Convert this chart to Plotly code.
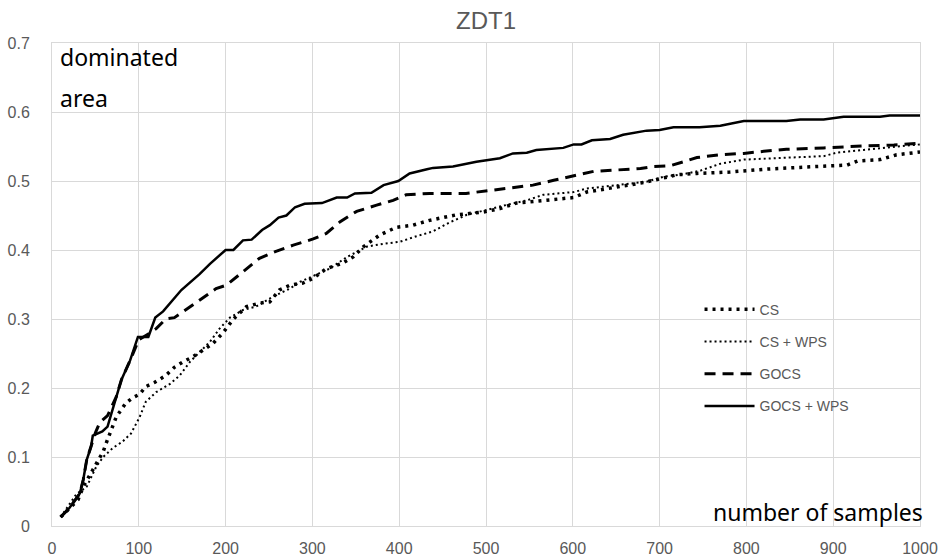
import plotly.graph_objects as go

# Dominated area vs. number of samples on ZDT1
cs_x = [10, 24, 30, 36, 44, 50, 55, 59, 63, 67, 74, 85, 93, 101, 108, 118, 131, 141, 151, 162,
        176, 185, 197, 209, 224, 239, 251, 262, 274, 289, 301, 316, 335, 347, 359, 378, 397, 416,
        435, 466, 497, 516, 535, 574, 601, 616, 651, 678, 693, 720, 743, 781, 820, 859, 897, 916,
        928, 954, 973, 1000]
cs_y = [0.013, 0.030, 0.038, 0.057, 0.074, 0.088, 0.098, 0.108, 0.122, 0.134, 0.158, 0.178, 0.186,
        0.191, 0.202, 0.208, 0.218, 0.230, 0.238, 0.245, 0.257, 0.264, 0.280, 0.300, 0.318, 0.323,
        0.325, 0.342, 0.349, 0.352, 0.359, 0.373, 0.381, 0.390, 0.405, 0.422, 0.433, 0.436, 0.443,
        0.451, 0.455, 0.460, 0.468, 0.472, 0.476, 0.484, 0.491, 0.497, 0.501, 0.509, 0.511, 0.513,
        0.517, 0.520, 0.522, 0.523, 0.529, 0.531, 0.538, 0.542]

cswps_x = [10, 28, 40, 45, 51, 59, 70, 81, 91, 101, 108, 120, 136, 147, 159, 170, 182, 193, 205,
           220, 235, 254, 274, 286, 305, 320, 340, 363, 382, 401, 420, 439, 458, 478, 516, 547, 566,
           601, 616, 651, 685, 704, 728, 747, 770, 797, 823, 850, 889, 904, 935, 954, 973, 1000]
cswps_y = [0.013, 0.046, 0.057, 0.071, 0.086, 0.100, 0.113, 0.122, 0.134, 0.158, 0.180, 0.194,
           0.206, 0.218, 0.238, 0.252, 0.267, 0.286, 0.302, 0.313, 0.318, 0.332, 0.344, 0.354,
           0.364, 0.373, 0.390, 0.405, 0.409, 0.412, 0.420, 0.427, 0.440, 0.451, 0.463, 0.472,
           0.480, 0.484, 0.489, 0.494, 0.499, 0.506, 0.510, 0.515, 0.525, 0.531, 0.533, 0.534,
           0.536, 0.541, 0.545, 0.547, 0.550, 0.553]

gocs_x = [10, 20, 32, 36, 40, 45, 50, 55, 64, 74, 80, 90, 100, 112, 120, 131, 141, 155, 174,
          189, 201, 220, 239, 258, 278, 301, 316, 332, 351, 374, 393, 408, 435, 477, 516, 554, 578,
          601, 624, 651, 678, 693, 712, 728, 743, 770, 797, 820, 846, 889, 916, 939, 970, 1000]
gocs_y = [0.013, 0.026, 0.047, 0.067, 0.096, 0.115, 0.135, 0.150, 0.160, 0.187, 0.212,
          0.240, 0.270, 0.279, 0.286, 0.300, 0.302, 0.314, 0.331, 0.344, 0.349, 0.369, 0.388,
          0.398, 0.407, 0.416, 0.424, 0.441, 0.456, 0.465, 0.472, 0.480, 0.482, 0.482, 0.488,
          0.494, 0.501, 0.507, 0.514, 0.516, 0.518, 0.521, 0.522, 0.528, 0.534, 0.538, 0.540,
          0.543, 0.546, 0.548, 0.550, 0.551, 0.552, 0.555]

gocswps_x = [10, 20, 32, 36, 40, 45, 47, 52, 58, 64, 74, 80, 90, 99, 111, 119, 128, 149, 170, 182,
             200, 209, 220, 230, 242, 251, 261, 270, 280, 291, 311, 328, 340, 349, 368, 382, 399,
             412, 432, 439, 462, 489, 516, 531, 547, 558, 589, 601, 610, 622, 643, 658, 685, 700,
             716, 746, 770, 797, 846, 862, 889, 912, 954, 965, 1000]
gocswps_y = [0.013, 0.026, 0.047, 0.067, 0.096, 0.115, 0.131, 0.134, 0.137, 0.144, 0.187, 0.212,
             0.240, 0.274, 0.274, 0.302, 0.311, 0.342, 0.365, 0.380, 0.400, 0.400, 0.414, 0.415,
             0.429, 0.436, 0.447, 0.450, 0.462, 0.467, 0.468, 0.476, 0.476, 0.482, 0.483, 0.494,
             0.500, 0.511, 0.517, 0.519, 0.521, 0.528, 0.533, 0.540, 0.541, 0.545, 0.548, 0.553,
             0.553, 0.559, 0.561, 0.567, 0.573, 0.574, 0.578, 0.578, 0.580, 0.587, 0.587, 0.589,
             0.589, 0.593, 0.593, 0.595, 0.595]

series = [
    ("CS", cs_x, cs_y, dict(width=3.5, dash="3px,5px")),
    ("CS + WPS", cswps_x, cswps_y, dict(width=2, dash="2px,3px")),
    ("GOCS", gocs_x, gocs_y, dict(width=3, dash="11px,7px")),
    ("GOCS + WPS", gocswps_x, gocswps_y, dict(width=2.5, dash="solid")),
]

GRID = "#d9d9d9"
GREY = "#595959"
TICK_FONT = dict(family="Liberation Sans, Arial, sans-serif", size=16, color=GREY)
LABEL_FONT = dict(family="Noto Sans, DejaVu Sans, sans-serif", size=23, color="#000000")

fig = go.Figure()
for name, xs, ys, line in series:
    fig.add_trace(go.Scatter(
        x=xs, y=ys, name=name, mode="lines", legendgroup=name,
        line=dict(color="#000000", **line),
    ))

fig.update_layout(
    width=941, height=558,
    margin=dict(l=52, r=21, t=43, b=32, autoexpand=False),
    paper_bgcolor="#ffffff", plot_bgcolor="#ffffff",
    title=dict(text="ZDT1", x=0.5, xref="paper", y=1 - 21 / 558, yanchor="middle",
               font=dict(family="Liberation Sans, Arial, sans-serif", size=24, color=GREY)),
    showlegend=True,
    legend=dict(x=0.746, y=0.481, xanchor="left", yanchor="top",
                bgcolor="rgba(0,0,0,0)", borderwidth=0, tracegroupgap=11, itemwidth=50,
                font=dict(family="Liberation Sans, Arial, sans-serif", size=14, color=GREY)),
    annotations=[
        dict(text="dominated", x=0.0066, y=0.971, xref="paper", yref="paper",
             xanchor="left", yanchor="middle", showarrow=False, font=LABEL_FONT),
        dict(text="area", x=0.0066, y=0.886, xref="paper", yref="paper",
             xanchor="left", yanchor="middle", showarrow=False, font=LABEL_FONT),
        dict(text="number of samples", x=1.006, y=0.029, xref="paper", yref="paper",
             xanchor="right", yanchor="middle", showarrow=False, font=LABEL_FONT),
    ],
)

fig.update_xaxes(range=[0, 1000], dtick=100, tick0=0, showgrid=True, gridcolor=GRID, gridwidth=1,
                 showline=True, linecolor=GRID, linewidth=1, mirror=True, zeroline=False,
                 ticks="", tickfont=TICK_FONT, ticklabelstandoff=8, automargin=False)
fig.update_yaxes(range=[0, 0.7], dtick=0.1, tick0=0, showgrid=True, gridcolor=GRID, gridwidth=1,
                 showline=True, linecolor=GRID, linewidth=1, mirror=True, zeroline=False,
                 ticks="", tickfont=TICK_FONT, ticklabelstandoff=18, automargin=False)

fig.write_html("out.html")
